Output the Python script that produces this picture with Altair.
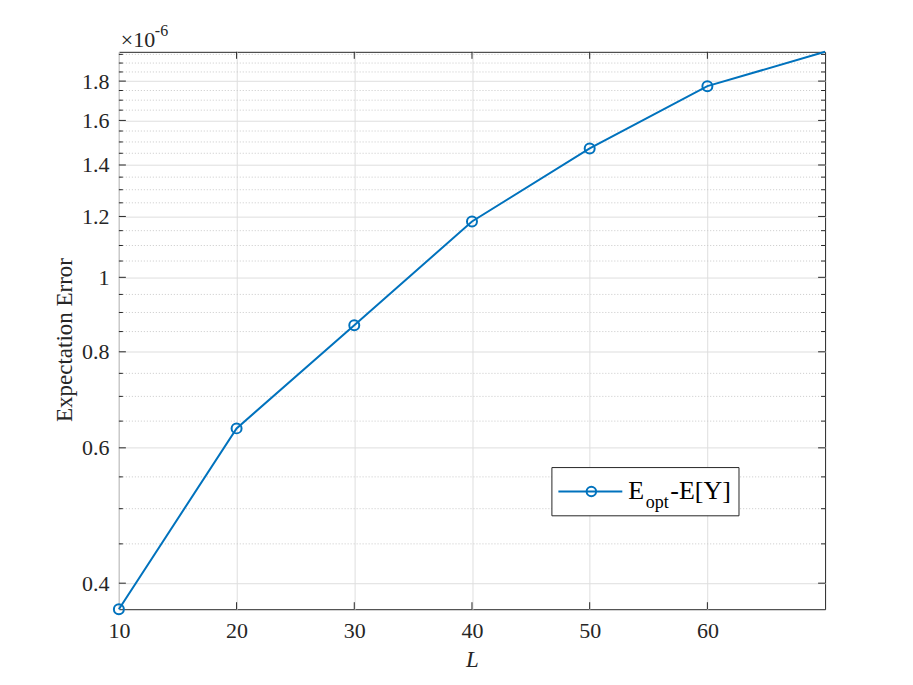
import altair as alt
import pandas as pd

# ---- data (values in units of 1e-6) ----
L_line = [10, 20, 30, 40, 50, 60, 70]
err_line = [0.370, 0.636, 0.866, 1.182, 1.471, 1.773, 1.965]
L_marks = [10, 20, 30, 40, 50, 60]
err_marks = [0.370, 0.636, 0.866, 1.182, 1.471, 1.773]

x_ticks = [10, 20, 30, 40, 50, 60]
x_top_ticks = [20, 30, 40, 50, 60]
y_major = [0.4, 0.6, 0.8, 1.0, 1.2, 1.4, 1.6, 1.8]
y_minor = [0.45, 0.5, 0.55, 0.65, 0.7, 0.75, 0.85, 0.9, 0.95, 1.05, 1.1, 1.15,
           1.25, 1.3, 1.35, 1.45, 1.5, 1.55, 1.65, 1.7, 1.75, 1.85, 1.9, 1.95]
legend_parts = ["E", "opt", "-E[Y]"]
exponent_parts = ["\u00d710", "-6"]

W, H = 707, 558
BLUE = "#0072BD"
AX = "#262626"
SERIF = "Liberation Serif"

df_line = pd.DataFrame({"L": L_line, "err": err_line})
df_marks = pd.DataFrame({"L": L_marks, "err": err_marks})
df_ymaj = pd.DataFrame({"v": y_major})
df_ymin = pd.DataFrame({"v": y_minor})
df_xt = pd.DataFrame({"v": x_top_ticks})
one = pd.DataFrame({"a": [0]})

xscale = alt.Scale(domain=[10, 70], nice=False, zero=False)
yscale = alt.Scale(type="log", domain=[0.370, 1.965], nice=False)

xaxis = alt.Axis(values=x_ticks, format="d", grid=True, gridColor="#dedede",
                 gridWidth=1, ticks=False, tickSize=0, domain=False,
                 labelFont=SERIF, labelFontSize=22, labelColor=AX,
                 labelPadding=11, labelBaseline="top", labelFlush=False,
                 labelOverlap=False,
                 title="L", titleFont=SERIF, titleFontSize=23,
                 titleFontStyle="italic", titleFontWeight="normal",
                 titleColor=AX, titleBaseline="alphabetic", titleY=57)
yaxis = alt.Axis(values=y_major, format="~g", grid=True, gridColor="#dedede",
                 gridWidth=1, ticks=False, tickSize=0, domain=False,
                 labelFont=SERIF, labelFontSize=22, labelColor=AX,
                 labelPadding=10, labelFlush=False, labelOverlap=False,
                 title="Expectation Error", titleFont=SERIF, titleFontSize=23,
                 titleFontWeight="normal", titleColor=AX,
                 titleBaseline="alphabetic", titleX=-47, titleY=288)

X = lambda f: alt.X(f, type="quantitative", scale=xscale, axis=xaxis)
Y = lambda f: alt.Y(f, type="quantitative", scale=yscale, axis=yaxis)

minor_grid = alt.Chart(df_ymin).mark_rule(
    color="#c9c9c9", strokeWidth=1, strokeDash=[1, 2]
).encode(y=Y("v"))

tick_style = dict(color=AX, strokeWidth=1)
ymaj_left = alt.Chart(df_ymaj).mark_rule(**tick_style).encode(
    y=Y("v"), x=alt.value(0), x2=alt.value(7))
ymaj_right = alt.Chart(df_ymaj).mark_rule(**tick_style).encode(
    y=Y("v"), x=alt.value(W - 7), x2=alt.value(W))
ymin_left = alt.Chart(df_ymin).mark_rule(**tick_style).encode(
    y=Y("v"), x=alt.value(0), x2=alt.value(4))
ymin_right = alt.Chart(df_ymin).mark_rule(**tick_style).encode(
    y=Y("v"), x=alt.value(W - 4), x2=alt.value(W))
x_bottom = alt.Chart(df_xt).mark_rule(**tick_style).encode(
    x=X("v"), y=alt.value(H - 7), y2=alt.value(H))
x_top = alt.Chart(df_xt).mark_rule(**tick_style).encode(
    x=X("v"), y=alt.value(0), y2=alt.value(7))

line = alt.Chart(df_line).mark_line(color=BLUE, strokeWidth=2).encode(
    x=X("L"), y=Y("err"))
points = alt.Chart(df_marks).mark_point(
    shape="circle", filled=False, color=BLUE, strokeWidth=2, size=100, opacity=1
).encode(x=X("L"), y=Y("err"))

# legend box
leg_box = alt.Chart(one).mark_rect(fill="white", stroke=AX, strokeWidth=1).encode(
    x=alt.value(433.5), x2=alt.value(620.8), y=alt.value(416.2), y2=alt.value(464.5))
leg_line = alt.Chart(one).mark_rule(color=BLUE, strokeWidth=2).encode(
    x=alt.value(440), x2=alt.value(504), y=alt.value(440.2))
leg_pt = alt.Chart(one).mark_point(
    shape="circle", filled=False, color=BLUE, strokeWidth=2, size=90, opacity=1
).encode(x=alt.value(473), y=alt.value(440.2))
leg_E = alt.Chart(one).mark_text(
    text=legend_parts[0], font=SERIF, fontSize=26, color="black",
    align="left", baseline="alphabetic").encode(x=alt.value(510), y=alt.value(447.5))
leg_opt = alt.Chart(one).mark_text(
    text=legend_parts[1], font=SERIF, fontSize=18, color="black",
    align="left", baseline="alphabetic").encode(x=alt.value(527.5), y=alt.value(456.5))
leg_rest = alt.Chart(one).mark_text(
    text=legend_parts[2], font=SERIF, fontSize=26, color="black",
    align="left", baseline="alphabetic").encode(x=alt.value(552), y=alt.value(447.5))

# exponent label
exp_base = alt.Chart(one).mark_text(
    text=exponent_parts[0], font=SERIF, fontSize=22, color=AX,
    align="left", baseline="alphabetic").encode(x=alt.value(2), y=alt.value(-5))
exp_sup = alt.Chart(one).mark_text(
    text=exponent_parts[1], font=SERIF, fontSize=16, color=AX,
    align="left", baseline="alphabetic").encode(x=alt.value(36), y=alt.value(-16))

chart = alt.layer(
    minor_grid, ymin_left, ymin_right, ymaj_left, ymaj_right, x_bottom, x_top,
    line, points, leg_box, leg_line, leg_pt, leg_E, leg_opt, leg_rest,
    exp_base, exp_sup
).properties(
    width=W, height=H,
    autosize=alt.AutoSizeParams(type="none"),
    padding={"left": 111, "top": 43.5, "right": 80, "bottom": 72},
    background="white",
).configure_view(stroke=AX, strokeWidth=1)

chart.save("out.html", embed_options={"renderer": "svg", "actions": False})
